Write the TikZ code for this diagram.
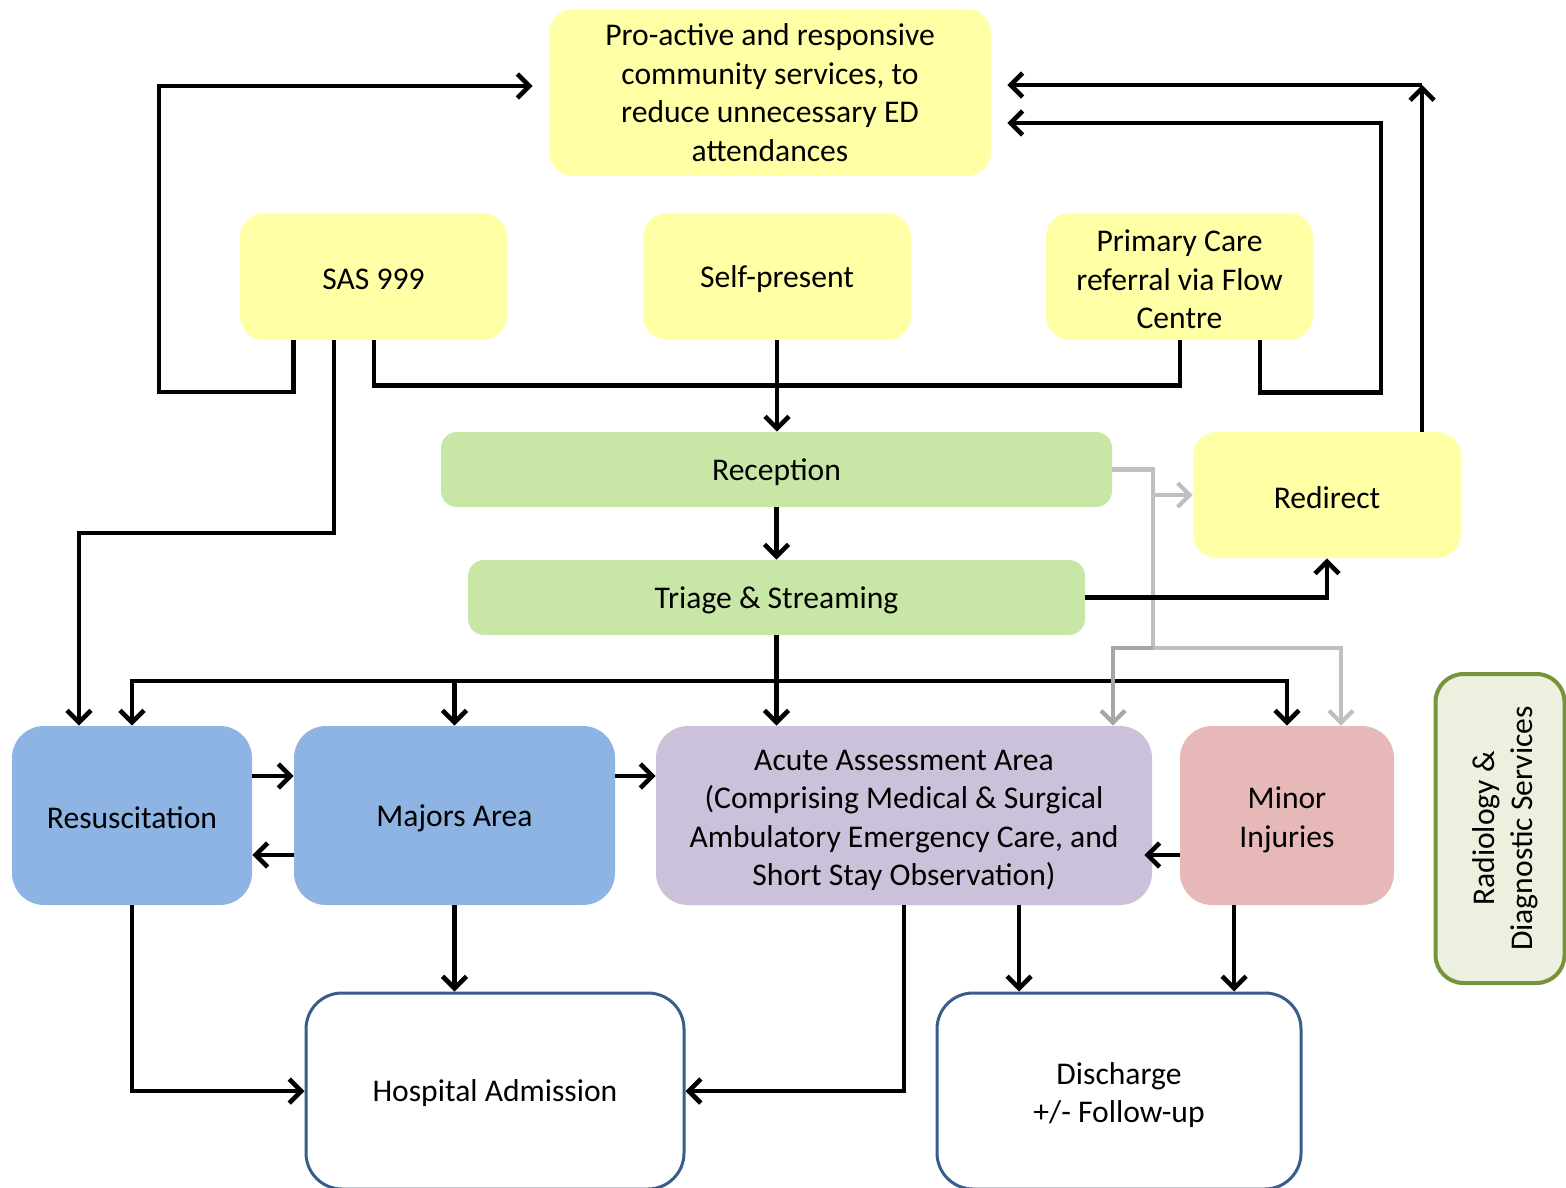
\documentclass[tikz,border=0pt]{standalone}
\usepackage{fontspec}
\setmainfont{Carlito}
\usetikzlibrary{arrows.meta,calc}

\definecolor{boxyellow}{RGB}{255,255,166}
\definecolor{boxgreen}{RGB}{200,230,165}
\definecolor{boxblue}{RGB}{141,180,226}
\definecolor{boxpurple}{RGB}{204,193,218}
\definecolor{boxpink}{RGB}{230,185,184}
\definecolor{radfill}{RGB}{235,241,222}
\definecolor{radline}{RGB}{119,147,60}
\definecolor{outline}{RGB}{56,93,138}
\definecolor{lightgrey}{RGB}{191,191,191}
\definecolor{midgrey}{RGB}{166,166,166}

% extra height on a first line, to sit the text a little lower
\newcommand{\topgap}[1]{\rule{0pt}{#1}}

\begin{document}
\begin{tikzpicture}[x=0.5pt,y=0.5pt,yscale=-1,
  >={Straight Barb[length=6pt,width=12pt]},
  box/.style={rounded corners=12pt,align=center,inner sep=0pt,font=\fontsize{15.8}{19.3}\selectfont,
    execute at begin node={\rule{0pt}{13.4pt}}},
  yelbox/.style={box,fill=boxyellow},
  grnbox/.style={box,fill=boxgreen,rounded corners=8pt},
  areabox/.style={box,rounded corners=16pt,minimum height=89.5pt},
  outbox/.style={box,draw=outline,line width=1.5pt,rounded corners=18pt,minimum height=98pt},
  flow/.style={line width=2.3pt,->},
  link/.style={line width=2.3pt},
  greyflow/.style={line width=2.1pt,color=lightgrey,->}]
\clip (0,0) rectangle (1566,1187);

% top row
\node[yelbox,minimum width=221pt,minimum height=83.5pt] (proactive) at (770,92.5) {Pro-active and responsive\\community services, to\\reduce unnecessary ED\\attendances};
\node[yelbox,minimum width=133.5pt,minimum height=63.5pt] (sas) at (373.5,276.5) {SAS 999};
\node[yelbox,minimum width=134pt,minimum height=63.5pt] (self) at (777,276.5) {Self-present};
\node[yelbox,minimum width=133.5pt,minimum height=63.5pt] (primary) at (1179.5,276.5) {\topgap{14pt}Primary Care\\referral via Flow\\Centre};

% reception and triage
\node[grnbox,minimum width=335.5pt,minimum height=37.5pt] (reception) at (776.5,469.5) {Reception};
\node[grnbox,minimum width=308.5pt,minimum height=37.5pt] (triage) at (776.5,597.5) {Triage \& Streaming};
\node[yelbox,minimum width=134pt,minimum height=63pt] (redirect) at (1327,495) {Redirect};

% areas
\node[areabox,fill=boxblue,minimum width=120pt] (resus) at (132,815.5) {Resuscitation};
\node[areabox,fill=boxblue,minimum width=160.5pt] (majors) at (454.5,815.5) {Majors Area};
\node[areabox,fill=boxpurple,minimum width=248pt] (acute) at (904,815.5) {\topgap{15pt}Acute Assessment Area\\(Comprising Medical \& Surgical\\Ambulatory Emergency Care, and\\Short Stay Observation)};
\node[areabox,fill=boxpink,minimum width=107pt] (minor) at (1287,815.5) {\topgap{15pt}Minor\\Injuries};
\node[box,fill=radfill,draw=radline,line width=2pt,rounded corners=14pt,rotate=90,minimum width=154.5pt,minimum height=64.5pt] (radio) at (1500,828.5) {\topgap{16pt}Radiology \&\\Diagnostic Services};

% outcomes
\node[outbox,fill=white,minimum width=189pt] (hospital) at (495,1091) {Hospital Admission};
\node[outbox,fill=white,minimum width=182pt] (discharge) at (1119,1091) {\topgap{15pt}Discharge\\+/- Follow-up};

\coordinate (loopL) at (159,392);
\coordinate (sasbend) at (79,533);
\coordinate (primbend) at (1381,123);
\coordinate (redtop) at (1422,85);
\coordinate (bus) at (776.5,681);
\coordinate (gbus) at (1153,648);
\coordinate (acuteout) at ($(acute.south)+(115,0)$);
\coordinate (minorout) at ($(minor.south)+(-53,0)$);

% back to community services
\draw[flow] ($(sas.south)+(-80,0)$) |- (loopL) |- ($(proactive.west)+(-16,-6.5)$);
\draw[flow] ($(primary.south)+(80.5,0)$) -- ++(0,52) -| (primbend) -- ($(proactive.east)+(16,30.5)$);
\draw[flow] ($(redirect.north)+(95,0)$) -- (redtop);
\draw[flow] (redtop) -- ($(proactive.east)+(16,-7.5)$);

% arrivals
\draw[flow] ($(sas.south)+(-39.5,0)$) |- (sasbend) -- (sasbend |- resus.north);
\draw[link] ($(sas.south)+(0.5,0)$) -- ++(0,45) -| ($(primary.south)+(0.5,0)$);
\draw[flow] (self.south) -- (self.south |- reception.north);
\draw[flow] (reception.south) -- (triage.north);

% streaming
\draw[flow] (triage.south) -- (triage.south |- acute.north);
\draw[flow,<->] (resus.north) |- (bus) -| (minor.north);
\draw[flow] (majors.north |- bus) -- (majors.north);

% grey redirect routes
\draw[line width=2.1pt,color=lightgrey] (reception.east) -| (gbus);
\draw[greyflow] (redirect.west -| gbus) -- (redirect.west);
\draw[greyflow,color=midgrey] (gbus) -| ($(acute.north)+(209,0)$);
\draw[greyflow] (gbus) -| ($(minor.north)+(54,0)$);
\draw[flow] (triage.east) -| (redirect.south);

% between areas
\draw[flow] ($(resus.east)+(0,-39.5)$) -- ($(majors.west)+(0,-39.5)$);
\draw[flow] ($(majors.west)+(0,39.5)$) -- ($(resus.east)+(0,39.5)$);
\draw[flow] ($(majors.east)+(0,-39.5)$) -- ($(acute.west)+(0,-39.5)$);
\draw[flow] ($(minor.west)+(0,39.5)$) -- ($(acute.east)+(-8,39.5)$);

% outcomes
\draw[flow] (resus.south) |- (hospital.west);
\draw[flow] (majors.south) -- (majors.south |- hospital.north);
\draw[flow] (acute.south) |- (hospital.east);
\draw[flow] (acuteout) -- (acuteout |- discharge.north);
\draw[flow] (minorout) -- (minorout |- discharge.north);

\end{tikzpicture}
\end{document}
